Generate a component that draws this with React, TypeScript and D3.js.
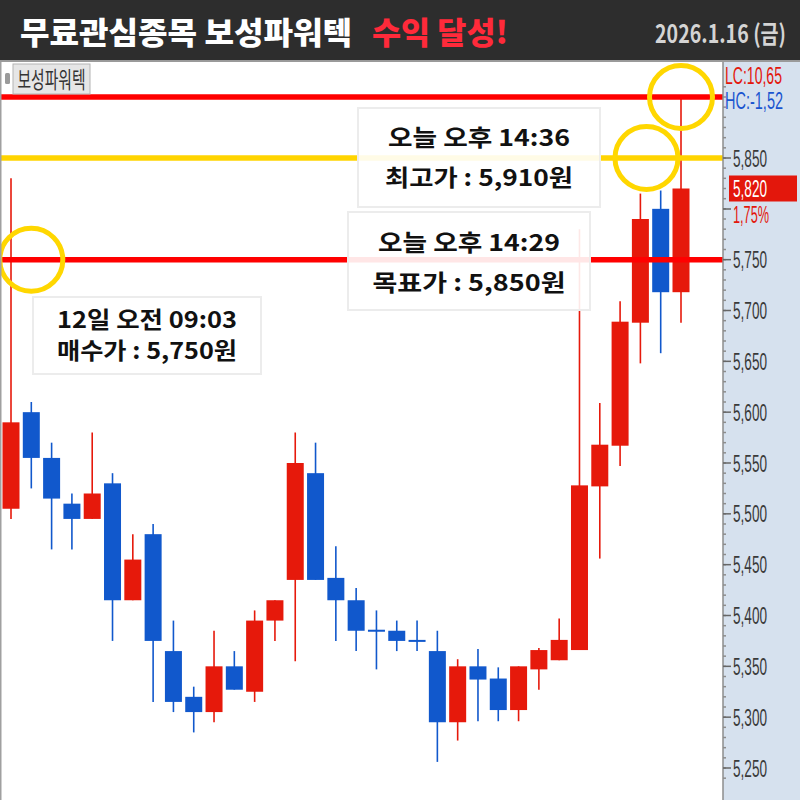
import React from "react";
import * as d3 from "d3";

// ---- data ----
const opens = [5505, 5600, 5555, 5510, 5495, 5530, 5415, 5480, 5365, 5320, 5305, 5350, 5325, 5395, 5435, 5540, 5437, 5415, 5386, 5385, 5376, 5365, 5295, 5350, 5338, 5307, 5347, 5356, 5366, 5527, 5567, 5688, 5800, 5718];
const highs = [5830, 5610, 5570, 5520, 5580, 5540, 5480, 5490, 5395, 5330, 5385, 5365, 5405, 5415, 5580, 5570, 5468, 5427, 5405, 5395, 5395, 5385, 5357, 5367, 5349, 5350, 5368, 5397, 5780, 5609, 5709, 5815, 5818, 5910];
const lows = [5495, 5525, 5465, 5465, 5495, 5375, 5415, 5315, 5305, 5285, 5295, 5327, 5315, 5375, 5355, 5435, 5375, 5365, 5347, 5365, 5365, 5256, 5277, 5296, 5296, 5296, 5327, 5356, 5366, 5456, 5547, 5648, 5658, 5688];
const closes = [5590, 5555, 5515, 5495, 5520, 5415, 5455, 5375, 5315, 5305, 5350, 5327, 5395, 5415, 5550, 5435, 5415, 5385, 5385, 5375, 5375, 5295, 5350, 5337, 5307, 5350, 5366, 5376, 5528, 5568, 5689, 5790, 5718, 5820];

const tickValues = [5250, 5300, 5350, 5400, 5450, 5500, 5550, 5600, 5650, 5700, 5750, 5850];
const refLines = [
  { value: 5910, color: "#ff0000" },
  { value: 5850, color: "#ffd400" },
  { value: 5750, color: "#ff0000" },
];
const circleMarks = [
  { index: 33, value: 5910 },
  { index: 31.3, value: 5850 },
  { index: 1, value: 5750 },
];
const lastPrice = 5820;
const lastChange = "1,75%";
const titleMain = "무료관심종목 보성파워텍";
const titleAccent = "수익 달성!";
const dateText = "2026.1.16 (금)";
const stockName = "보성파워텍";
const lcText = "LC:10,65";
const hcText = "HC:-1,52";
const notes = [
  { line1: "오늘 오후 14:36", line2: "최고가 : 5,910원" },
  { line1: "오늘 오후 14:29", line2: "목표가 : 5,850원" },
  { line1: "12일 오전 09:03", line2: "매수가 : 5,750원" },
];

// ---- layout ----
const W = 800;
const H = 800;
const HEADER = 60;
const AXIS_X = 723;
const RED = "#e6190b";
const BLUE = "#1158cc";
const KFONT = "'Noto Sans CJK KR', 'Noto Sans', sans-serif";
const NFONT = "'Liberation Sans', 'DejaVu Sans', sans-serif";

const noteBoxes = [
  { x: 358, y: 108, w: 242, h: 99, b1: 146, b2: 186, l1: 182, l2: 188 },
  { x: 348, y: 212, w: 242, h: 98, b1: 251, b2: 291, l1: 182, l2: 193 },
  { x: 33, y: 297, w: 228, h: 77, b1: 328, b2: 359, l1: 180, l2: 180 },
];

// condensed text: drawn in a horizontally scaled group
function Condensed(props: {
  x: number; y: number; sx: number; width: number; children: string;
  fontSize: number; fill: string; family: string; weight?: number; dy?: string;
}) {
  const { x, y, sx, width, children, fontSize, fill, family, weight, dy } = props;
  return (
    <g transform={`translate(${x},${y}) scale(${sx},1)`}>
      <text x={0} y={0} dy={dy} fontFamily={family} fontWeight={weight ?? 400} fontSize={fontSize} fill={fill} textLength={width / sx} lengthAdjust="spacingAndGlyphs">
        {children}
      </text>
    </g>
  );
}

export default function App() {
  const x = d3.scaleLinear().domain([0, 33]).range([11, 681]);
  const y = d3.scaleLinear().domain([5250, 5850]).range([768, 158]);
  const bodyW = 17;
  const minorTicks = d3.range(5240, 5921, 10).filter((v) => y(v) > HEADER + 4);

  return (
    <svg
      width={W}
      height={H}
      style={{ position: "absolute", left: 0, top: 0, display: "block" }}
    >
      <rect x={0} y={0} width={W} height={H} fill="#ffffff" />
      <rect x={AXIS_X} y={HEADER} width={W - AXIS_X} height={H - HEADER} fill="#d6e1ee" />

      {/* candles */}
      {opens.map((o, i) => {
        const c = closes[i];
        const up = c > o;
        const col = up ? RED : BLUE;
        const top = y(Math.max(o, c));
        const bot = y(Math.min(o, c));
        return (
          <g key={i}>
            <line x1={x(i)} x2={x(i)} y1={y(highs[i])} y2={y(lows[i])} stroke={col} strokeWidth={1.6} />
            <rect x={x(i) - bodyW / 2} y={top} width={bodyW} height={Math.max(2, bot - top)} fill={col} />
          </g>
        );
      })}

      {/* reference lines */}
      {refLines.map((r, i) => (
        <line key={i} x1={0} x2={AXIS_X} y1={y(r.value)} y2={y(r.value)} stroke={r.color} strokeWidth={5.5} />
      ))}

      {/* note boxes */}
      {notes.map((n, i) => {
        const b = noteBoxes[i];
        const cx = b.x + b.w / 2;
        return (
          <g key={i}>
            <rect x={b.x} y={b.y} width={b.w} height={b.h} fill="#ffffff" fillOpacity={0.9} stroke="#ececec" strokeWidth={2} />
            <text x={cx} y={b.b1} textAnchor="middle" fontFamily={KFONT} fontWeight={700} fontSize={23} fill="#111" textLength={b.l1} lengthAdjust="spacingAndGlyphs">
              {n.line1}
            </text>
            <text x={cx} y={b.b2} textAnchor="middle" fontFamily={KFONT} fontWeight={700} fontSize={23} fill="#111" textLength={b.l2} lengthAdjust="spacingAndGlyphs">
              {n.line2}
            </text>
          </g>
        );
      })}

      {/* highlight circles */}
      {circleMarks.map((c, i) => (
        <circle key={i} cx={x(c.index)} cy={y(c.value)} r={31.5} fill="none" stroke="#ffd700" strokeWidth={5} />
      ))}

      {/* right axis */}
      <line x1={AXIS_X} x2={AXIS_X} y1={HEADER} y2={H} stroke="#8c8c8c" strokeWidth={1.5} />
      {minorTicks.map((v) => (
        <line key={v} x1={AXIS_X} x2={AXIS_X + 3} y1={y(v)} y2={y(v)} stroke="#8c8c8c" strokeWidth={1.5} />
      ))}
      {tickValues.map((v) => (
        <g key={v}>
          <line x1={AXIS_X} x2={AXIS_X + 8} y1={y(v)} y2={y(v)} stroke="#666" strokeWidth={1.5} />
          <text x={733} y={y(v)} dy="0.36em" fontFamily={NFONT} fontSize={24} fill="#3a3a3a" textLength={34} lengthAdjust="spacingAndGlyphs">
            {d3.format(",")(v)}
          </text>
        </g>
      ))}
      <rect x={729} y={y(lastPrice) - 13} width={68} height={26} fill="#e3170c" />
      <text x={733} y={y(lastPrice)} dy="0.36em" fontFamily={NFONT} fontSize={24} fill="#ffffff" textLength={34} lengthAdjust="spacingAndGlyphs">
        {d3.format(",")(lastPrice)}
      </text>
      <line x1={AXIS_X} x2={AXIS_X + 8} y1={209} y2={209} stroke="#666" strokeWidth={1.5} />
      <text x={733} y={214} dy="0.36em" fontFamily={NFONT} fontSize={24} fill="#e3170c" textLength={36} lengthAdjust="spacingAndGlyphs">
        {lastChange}
      </text>
      <Condensed x={725} y={76} sx={0.61} width={57} dy="0.36em" family={NFONT} fontSize={23} fill="#e3170c">
        {lcText}
      </Condensed>
      <Condensed x={725} y={101} sx={0.63} width={58} dy="0.36em" family={NFONT} fontSize={23} fill="#1a55d0">
        {hcText}
      </Condensed>

      {/* stock name tag */}
      <rect x={5} y={73} width={5} height={11} rx={1.5} fill="#9a9a9a" />
      <rect x={13} y={64} width={77} height={30} fill="#e6e6e6" stroke="#b4b4b4" strokeWidth={1} />
      <text x={51.5} y={80} dy="0.36em" textAnchor="middle" fontFamily={KFONT} fontSize={23} fill="#333" textLength={68} lengthAdjust="spacingAndGlyphs">
        {stockName}
      </text>

      <line x1={0.75} x2={0.75} y1={HEADER} y2={H} stroke="#a0a0a0" strokeWidth={1.5} />

      {/* header */}
      <rect x={0} y={0} width={W} height={HEADER} fill="#2d2d2d" />
      <rect x={0} y={HEADER} width={W} height={2} fill="#9a9a9a" />
      <text x={20} y={44} fontFamily={KFONT} fontWeight={900} fontSize={31} fill="#ffffff" textLength={332} lengthAdjust="spacingAndGlyphs">
        {titleMain}
      </text>
      <text x={372} y={44} fontFamily={KFONT} fontWeight={900} fontSize={31} fill="#ff2a3a" textLength={136} lengthAdjust="spacingAndGlyphs">
        {titleAccent}
      </text>
      <Condensed x={655} y={43} sx={0.84} width={131} family={KFONT} weight={700} fontSize={25} fill="#d4d4d4">
        {dateText}
      </Condensed>
    </svg>
  );
}
